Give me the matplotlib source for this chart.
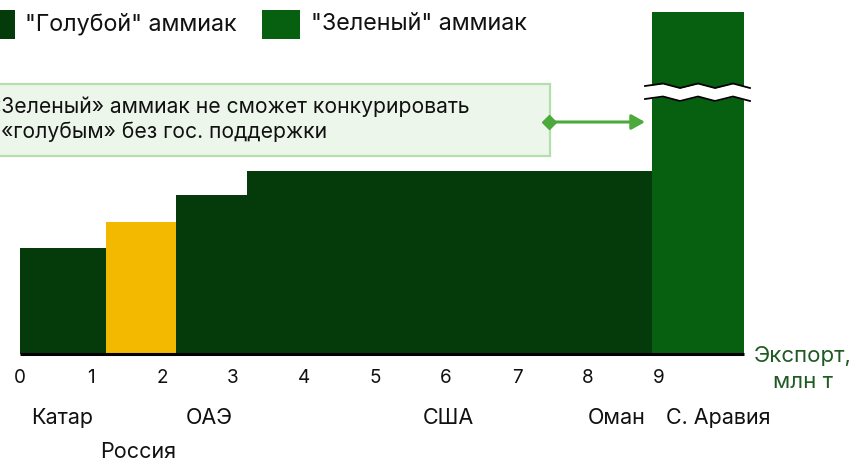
import matplotlib
matplotlib.use("Agg")
import matplotlib.pyplot as plt
from matplotlib.patches import Rectangle
import numpy as np

plt.rcParams['font.family'] = ['Inter', 'DejaVu Sans']

# ---- data ----
countries = ["Катар", "Россия", "ОАЭ", "США", "Оман", "С. Аравия"]
widths = [1.21, 0.99, 1.00, 5.00, 0.70, 1.30]          # export, mln t
costs = [106, 132, 159, 183, 183, 342]                  # relative cost (Saudi bar shown broken)
kinds = ["blue", "blue", "blue", "blue", "blue", "green"]
highlight = "Россия"
label_x = [0.59, 1.67, 2.67, 6.04, 8.40, 9.83]
label_row = [0, 1, 0, 0, 0, 0]
xticks = list(range(10))
legend_labels = ['"Голубой" аммиак', '"Зеленый" аммиак']
note_lines = ["«Зеленый» аммиак не сможет конкурировать", "с «голубым» без гос. поддержки"]

DARK = "#053a0a"
GREEN = "#066010"
YELLOW = "#f2b900"
ARROW = "#4caa3c"
AXLAB = "#1f5a22"

fig = plt.figure(figsize=(8.55, 4.63), dpi=100)
ax = fig.add_axes([0, 0, 1, 1])
PX = 71.0
ax.set_xlim(-20 / PX, 835 / PX)
ax.set_ylim(354 - 463, 354)
ax.axis("off")

lefts = np.concatenate([[0], np.cumsum(widths)[:-1]])
for c, l, w, h, k in zip(countries, lefts, widths, costs, kinds):
    col = GREEN if k == "green" else DARK
    if c == highlight:
        col = YELLOW
    ax.bar(l, h, width=w, align="edge", color=col, edgecolor="none", zorder=2)

total = lefts[-1] + widths[-1]
ax.plot([0, total], [0, 0], color="black", lw=2.2, zorder=3, solid_capstyle="butt")

# break marks on the tall bar
zx = np.array([645, 663, 680, 698, 715, 733, 750])
zx = (zx - 20) / PX
top = 354 - np.array([86, 83.5, 88, 83.5, 88, 83.5, 88])
bot = top - 13
ax.fill_between(zx, bot, top, color="white", zorder=4, lw=0)
ax.plot(zx, top, color="black", lw=1.3, zorder=5)
ax.plot(zx, bot, color="black", lw=1.3, zorder=5)

# ticks
for t in xticks:
    ax.text(t, 354 - 378, str(t), ha="center", va="center", fontsize=13.6, color="#111111")

# country labels
for c, x, r in zip(countries, label_x, label_row):
    ax.text(x, 354 - (418 + 34 * r), c, ha="center", va="center", fontsize=15.5, color="#111111")

ax.text((803 - 20) / PX, 354 - 369, "Экспорт,\nмлн т", ha="center", va="center",
        fontsize=16, color=AXLAB, linespacing=1.4)

# annotation box
bx0 = -40 / PX
bx1 = (550 - 20) / PX
ax.add_patch(Rectangle((bx0, 354 - 156), bx1 - bx0, 72, facecolor="#ecf6ea",
                       edgecolor="#b3dfad", lw=1.6, zorder=3))
ax.text(-31 / PX, 354 - 107, note_lines[0], ha="left", va="center", fontsize=15.2,
        color="#111111", zorder=4)
ax.text(-37 / PX, 354 - 132, note_lines[1], ha="left", va="center", fontsize=15.2,
        color="#111111", zorder=4)
ax.annotate("", xy=((645 - 20) / PX, 354 - 122), xytext=((549 - 20) / PX, 354 - 122),
            arrowprops=dict(arrowstyle="-|>,head_length=0.8,head_width=0.45", color=ARROW,
                            lw=2.2, shrinkA=0, shrinkB=0), zorder=5)
ax.plot([(549 - 20) / PX], [354 - 122], marker="D", color=ARROW, ms=7, zorder=6)

# legend (manual)
W, H = 855.0, 463.0
def fx(p):
    return p / W
def fy(p):
    return 1 - p / H
sq = [(-23, 25, DARK), (262, 311, GREEN)]
for (x0, tx, col), lab in zip(sq, legend_labels):
    fig.patches.append(Rectangle((fx(x0), fy(39)), fx(38), 29 / H, transform=fig.transFigure,
                                 facecolor=col, edgecolor="none"))
    fig.text(fx(tx), fy(24), lab, ha="left", va="center", fontsize=16.8, color="#111111")

fig.savefig("out.png", dpi=100)
